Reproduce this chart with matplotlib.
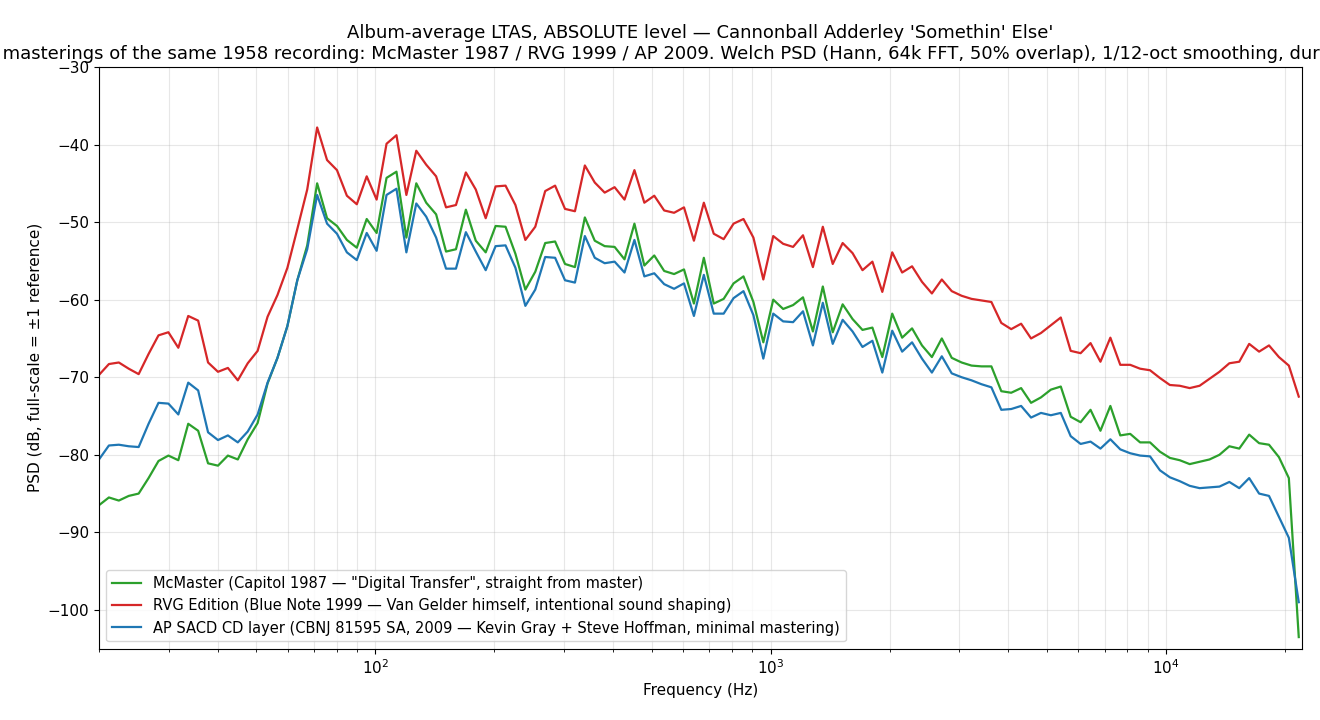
import matplotlib
matplotlib.use("Agg")
import matplotlib.pyplot as plt
import numpy as np

plt.rcParams["font.size"] = 11

# 1/12-octave analysis grid starting at 20 Hz
freqs = 20 * 2 ** (np.arange(122) / 12)

mcmaster = [-86.5, -85.5, -85.9, -85.3, -85.0, -83.0, -80.8, -80.1, -80.7, -76.0,
            -76.9, -81.1, -81.4, -80.1, -80.6, -78.0, -75.9, -70.8, -67.5, -63.4,
            -57.5, -53.0, -45.0, -49.5, -50.5, -52.3, -53.3, -49.6, -51.4, -44.3,
            -43.5, -52.0, -45.0, -47.5, -49.0, -53.8, -53.5, -48.4, -52.4, -53.9,
            -50.5, -50.6, -54.1, -58.7, -56.4, -52.7, -52.5, -55.4, -55.8, -49.4,
            -52.4, -53.1, -53.2, -54.8, -50.2, -55.6, -54.3, -56.3, -56.7, -56.1,
            -60.5, -54.6, -60.5, -59.9, -57.9, -57.0, -60.3, -65.5, -60.0, -61.2,
            -60.7, -59.7, -64.1, -58.3, -64.2, -60.6, -62.5, -63.9, -63.6, -67.4,
            -61.8, -64.9, -63.7, -65.9, -67.4, -65.0, -67.5, -68.1, -68.5, -68.6,
            -68.6, -71.8, -72.0, -71.4, -73.3, -72.6, -71.6, -71.2, -75.1, -75.8,
            -74.2, -76.9, -73.7, -77.5, -77.3, -78.4, -78.4, -79.6, -80.4, -80.7,
            -81.2, -80.9, -80.6, -80.0, -78.9, -79.2, -77.4, -78.5, -78.7, -80.3,
            -83.0, -103.5]

rvg = [-69.7, -68.3, -68.1, -68.9, -69.6, -67.0, -64.6, -64.2, -66.2, -62.1,
       -62.7, -68.1, -69.3, -68.8, -70.4, -68.2, -66.6, -62.2, -59.4, -55.9,
       -50.9, -45.8, -37.8, -42.0, -43.3, -46.6, -47.7, -44.1, -47.1, -39.9,
       -38.8, -46.5, -40.8, -42.6, -44.1, -48.1, -47.8, -43.6, -45.8, -49.5,
       -45.4, -45.3, -47.8, -52.3, -50.6, -46.0, -45.3, -48.3, -48.6, -42.7,
       -44.9, -46.2, -45.5, -47.1, -43.3, -47.5, -46.6, -48.5, -48.8, -48.1,
       -52.4, -47.5, -51.5, -52.2, -50.2, -49.6, -52.0, -57.4, -51.8, -52.8,
       -53.2, -51.7, -55.8, -50.6, -55.4, -52.7, -54.0, -56.2, -55.1, -59.0,
       -53.9, -56.5, -55.7, -57.7, -59.2, -57.4, -58.9, -59.5, -59.9, -60.1,
       -60.3, -63.0, -63.8, -63.1, -65.0, -64.3, -63.3, -62.3, -66.6, -66.9,
       -65.6, -68.0, -64.9, -68.4, -68.4, -68.9, -69.1, -70.1, -71.0, -71.1,
       -71.4, -71.1, -70.2, -69.3, -68.2, -68.0, -65.7, -66.7, -65.9, -67.4,
       -68.5, -72.5]

ap = [-80.6, -78.8, -78.7, -78.9, -79.0, -76.0, -73.3, -73.4, -74.8, -70.7,
      -71.7, -77.1, -78.1, -77.5, -78.4, -77.0, -74.8, -70.7, -67.5, -63.4,
      -57.5, -53.5, -46.5, -50.2, -51.5, -53.9, -54.9, -51.4, -53.7, -46.5,
      -45.7, -53.9, -47.6, -49.3, -52.0, -56.0, -56.0, -51.3, -53.8, -56.2,
      -53.1, -53.0, -55.9, -60.8, -58.7, -54.5, -54.6, -57.5, -57.8, -51.8,
      -54.6, -55.3, -55.1, -56.5, -52.3, -57.0, -56.6, -58.0, -58.6, -57.9,
      -62.1, -56.8, -61.8, -61.8, -59.8, -58.9, -62.0, -67.6, -61.8, -62.8,
      -62.9, -61.5, -65.9, -60.4, -65.7, -62.6, -64.1, -66.1, -65.3, -69.4,
      -64.0, -66.7, -65.5, -67.6, -69.4, -67.3, -69.5, -70.0, -70.4, -70.9,
      -71.3, -74.2, -74.1, -73.7, -75.2, -74.6, -74.9, -74.6, -77.6, -78.6,
      -78.3, -79.2, -78.0, -79.3, -79.8, -80.1, -80.2, -82.0, -82.9, -83.4,
      -84.0, -84.3, -84.2, -84.1, -83.5, -84.3, -83.0, -85.0, -85.3, -88.0,
      -90.7, -99.0]

labels = ['McMaster (Capitol 1987 \u2014 "Digital Transfer", straight from master)',
          "RVG Edition (Blue Note 1999 \u2014 Van Gelder himself, intentional sound shaping)",
          "AP SACD CD layer (CBNJ 81595 SA, 2009 \u2014 Kevin Gray + Steve Hoffman, minimal mastering)"]
colors = ["#2ca02c", "#d62728", "#1f77b4"]

fig = plt.figure(figsize=(13.2, 7.2), dpi=100)
ax = fig.add_axes([0.075, 0.099, 0.911, 0.808])
for vals, lab, c in zip([mcmaster, rvg, ap], labels, colors):
    ax.semilogx(freqs, vals, color=c, lw=1.6, label=lab)

ax.set_xlim(20, 22050)
ax.set_ylim(-105, -30)
ax.grid(True, which="both", alpha=0.3)
ax.set_xlabel("Frequency (Hz)")
ax.set_ylabel("PSD (dB, full-scale = \u00b11 reference)")
ax.set_title("Album-average LTAS, ABSOLUTE level \u2014 Cannonball Adderley 'Somethin' Else'\n"
             "Three masterings of the same 1958 recording: McMaster 1987 / RVG 1999 / AP 2009. "
             "Welch PSD (Hann, 64k FFT, 50% overlap), 1/12-oct smoothing, duration-weighted",
             fontsize=13)
ax.legend(loc="lower left", fontsize=10.5)
fig.savefig("out.png", dpi=100)
